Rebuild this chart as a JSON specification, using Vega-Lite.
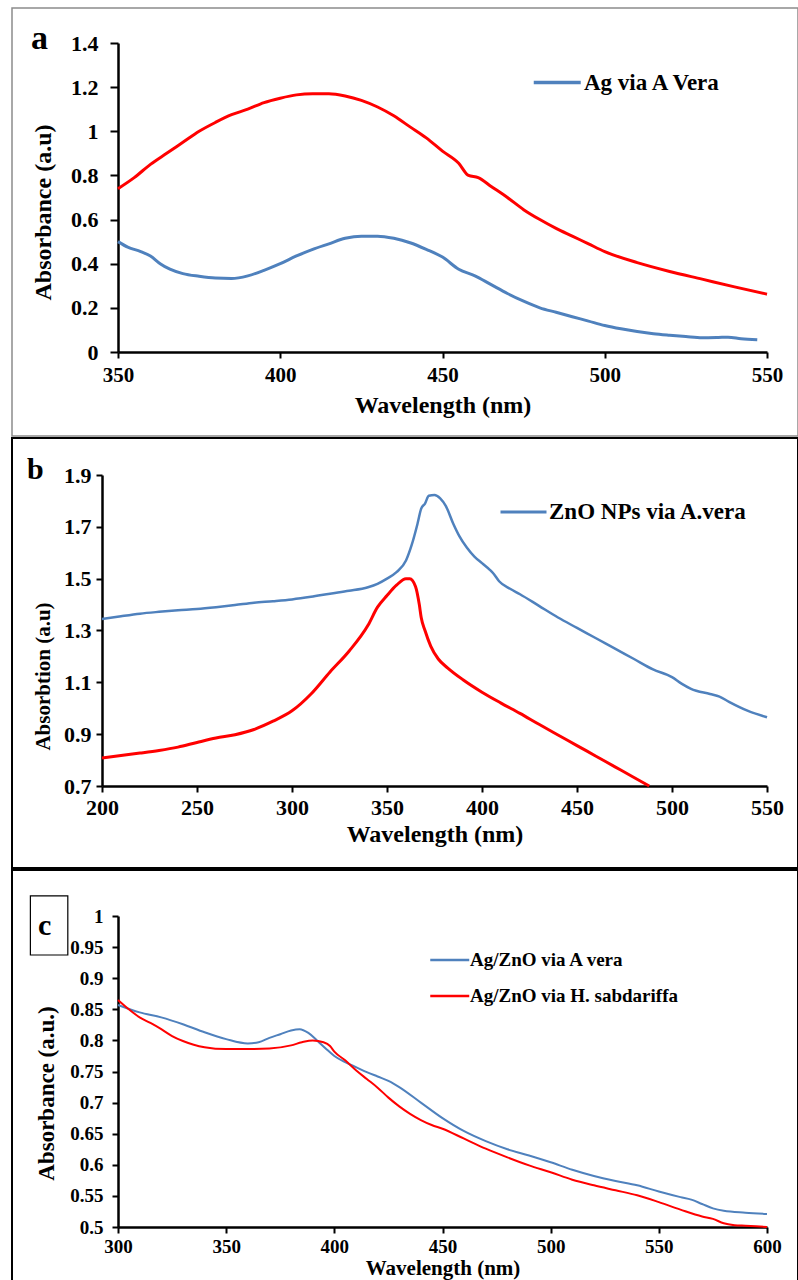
{
  "$schema": "https://vega.github.io/schema/vega-lite/v6.json",
  "background": "white",
  "padding": {"left": 11, "top": 7, "right": 0, "bottom": 0},
  "spacing": 0,
  "config": {
    "font": "Liberation Serif",
    "view": {"stroke": null},
    "axis": {
      "labelFont": "Liberation Serif", "labelFontWeight": "bold", "labelColor": "#000",
      "titleFont": "Liberation Serif", "titleFontWeight": "bold", "titleColor": "#000",
      "domainColor": "#000", "domainWidth": 2.5, "tickColor": "#000", "tickWidth": 2,
      "grid": false, "labelFlush": false, "labelOverlap": false, "format": "~f"
    },
    "legend": {
      "labelFont": "Liberation Serif", "labelFontWeight": "bold", "labelColor": "#000",
      "padding": 0, "title": null, "labelLimit": 0
    },
    "title": {"font": "Liberation Serif", "fontWeight": "bold", "color": "#000", "anchor": "start", "frame": "group", "baseline": "alphabetic"}
  },
  "resolve": {"scale": {"color": "independent"}, "legend": {"color": "independent"}},
  "vconcat": [
    {
      "width": 786, "height": 428,
      "view": {"stroke": "#8c8c8c", "strokeWidth": 1.5},
      "title": {"text": "a", "fontSize": 34, "offset": -48, "dx": 19},
      "data": {"values": [
        {"s": "Ag via A Vera", "wl": 350, "ab": 0.50}, {"s": "Ag via A Vera", "wl": 353, "ab": 0.475}, {"s": "Ag via A Vera", "wl": 357, "ab": 0.455}, {"s": "Ag via A Vera", "wl": 360, "ab": 0.435}, {"s": "Ag via A Vera", "wl": 363, "ab": 0.40}, {"s": "Ag via A Vera", "wl": 366, "ab": 0.375}, {"s": "Ag via A Vera", "wl": 370, "ab": 0.355}, {"s": "Ag via A Vera", "wl": 375, "ab": 0.343}, {"s": "Ag via A Vera", "wl": 380, "ab": 0.335}, {"s": "Ag via A Vera", "wl": 385, "ab": 0.333}, {"s": "Ag via A Vera", "wl": 390, "ab": 0.345}, {"s": "Ag via A Vera", "wl": 395, "ab": 0.37}, {"s": "Ag via A Vera", "wl": 400, "ab": 0.40}, {"s": "Ag via A Vera", "wl": 405, "ab": 0.435}, {"s": "Ag via A Vera", "wl": 410, "ab": 0.465}, {"s": "Ag via A Vera", "wl": 415, "ab": 0.49}, {"s": "Ag via A Vera", "wl": 420, "ab": 0.515}, {"s": "Ag via A Vera", "wl": 425, "ab": 0.525}, {"s": "Ag via A Vera", "wl": 430, "ab": 0.525}, {"s": "Ag via A Vera", "wl": 435, "ab": 0.515}, {"s": "Ag via A Vera", "wl": 440, "ab": 0.495}, {"s": "Ag via A Vera", "wl": 445, "ab": 0.465}, {"s": "Ag via A Vera", "wl": 450, "ab": 0.43}, {"s": "Ag via A Vera", "wl": 455, "ab": 0.375}, {"s": "Ag via A Vera", "wl": 460, "ab": 0.345}, {"s": "Ag via A Vera", "wl": 465, "ab": 0.305}, {"s": "Ag via A Vera", "wl": 470, "ab": 0.265}, {"s": "Ag via A Vera", "wl": 475, "ab": 0.23}, {"s": "Ag via A Vera", "wl": 480, "ab": 0.20}, {"s": "Ag via A Vera", "wl": 485, "ab": 0.18}, {"s": "Ag via A Vera", "wl": 490, "ab": 0.16}, {"s": "Ag via A Vera", "wl": 495, "ab": 0.14}, {"s": "Ag via A Vera", "wl": 500, "ab": 0.12}, {"s": "Ag via A Vera", "wl": 505, "ab": 0.105}, {"s": "Ag via A Vera", "wl": 510, "ab": 0.093}, {"s": "Ag via A Vera", "wl": 515, "ab": 0.083}, {"s": "Ag via A Vera", "wl": 520, "ab": 0.076}, {"s": "Ag via A Vera", "wl": 525, "ab": 0.07}, {"s": "Ag via A Vera", "wl": 530, "ab": 0.065}, {"s": "Ag via A Vera", "wl": 535, "ab": 0.066}, {"s": "Ag via A Vera", "wl": 538, "ab": 0.067}, {"s": "Ag via A Vera", "wl": 542, "ab": 0.06}, {"s": "Ag via A Vera", "wl": 547, "ab": 0.055},
        {"s": "red curve", "wl": 350, "ab": 0.74}, {"s": "red curve", "wl": 355, "ab": 0.79}, {"s": "red curve", "wl": 360, "ab": 0.85}, {"s": "red curve", "wl": 365, "ab": 0.90}, {"s": "red curve", "wl": 370, "ab": 0.95}, {"s": "red curve", "wl": 375, "ab": 1.0}, {"s": "red curve", "wl": 380, "ab": 1.04}, {"s": "red curve", "wl": 385, "ab": 1.075}, {"s": "red curve", "wl": 390, "ab": 1.10}, {"s": "red curve", "wl": 395, "ab": 1.13}, {"s": "red curve", "wl": 400, "ab": 1.15}, {"s": "red curve", "wl": 405, "ab": 1.165}, {"s": "red curve", "wl": 410, "ab": 1.17}, {"s": "red curve", "wl": 415, "ab": 1.17}, {"s": "red curve", "wl": 420, "ab": 1.16}, {"s": "red curve", "wl": 425, "ab": 1.14}, {"s": "red curve", "wl": 430, "ab": 1.11}, {"s": "red curve", "wl": 435, "ab": 1.07}, {"s": "red curve", "wl": 440, "ab": 1.02}, {"s": "red curve", "wl": 445, "ab": 0.97}, {"s": "red curve", "wl": 450, "ab": 0.91}, {"s": "red curve", "wl": 455, "ab": 0.855}, {"s": "red curve", "wl": 458, "ab": 0.80}, {"s": "red curve", "wl": 461, "ab": 0.79}, {"s": "red curve", "wl": 465, "ab": 0.75}, {"s": "red curve", "wl": 470, "ab": 0.70}, {"s": "red curve", "wl": 475, "ab": 0.645}, {"s": "red curve", "wl": 480, "ab": 0.60}, {"s": "red curve", "wl": 485, "ab": 0.56}, {"s": "red curve", "wl": 490, "ab": 0.525}, {"s": "red curve", "wl": 495, "ab": 0.49}, {"s": "red curve", "wl": 500, "ab": 0.455}, {"s": "red curve", "wl": 510, "ab": 0.405}, {"s": "red curve", "wl": 520, "ab": 0.365}, {"s": "red curve", "wl": 530, "ab": 0.33}, {"s": "red curve", "wl": 540, "ab": 0.295}, {"s": "red curve", "wl": 550, "ab": 0.262}
      ]},
      "encoding": {
        "x": {"field": "wl", "type": "quantitative",
          "scale": {"domain": [350, 550], "range": [106, 755], "nice": false, "zero": false},
          "axis": {"values": [350, 400, 450, 500, 550], "offset": -84, "title": "Wavelength (nm)", "titleY": 53, "titleBaseline": "middle", "labelFontSize": 21, "titleFontSize": 24, "tickSize": 6, "labelPadding": 6}},
        "y": {"field": "ab", "type": "quantitative",
          "scale": {"domain": [0, 1.4], "range": [344, 35], "nice": false, "zero": false},
          "axis": {"values": [0, 0.2, 0.4, 0.6, 0.8, 1, 1.2, 1.4], "offset": -106, "title": "Absorbance (a.u)", "titleX": -75, "titleY": 204, "titleAngle": -90, "titleAlign": "center", "titleBaseline": "middle", "labelFontSize": 22, "titleFontSize": 24, "tickSize": 8, "labelPadding": 12}}
      },
      "layer": [
        {"transform": [{"filter": "datum.s === 'red curve'"}],
         "mark": {"type": "line", "color": "#FF0000", "strokeWidth": 3, "interpolate": "monotone"}},
        {"transform": [{"filter": "datum.s === 'Ag via A Vera'"}],
         "mark": {"type": "line", "strokeWidth": 3, "interpolate": "monotone"},
         "encoding": {"color": {"field": "s", "type": "nominal", "scale": {"domain": ["Ag via A Vera"], "range": ["#4F81BD"]},
           "legend": {"orient": "none", "legendX": 520, "legendY": 61, "symbolType": "M-1,0H3", "symbolSize": 552, "symbolStrokeWidth": 3.5, "labelOffset": 25, "labelFontSize": 23}}}}
      ]
    },
    {
      "width": 786, "height": 430,
      "view": {"stroke": "#000", "strokeWidth": 2},
      "title": {"text": "b", "fontSize": 30, "offset": -47, "dx": 15},
      "data": {"values": [
        {"s": "ZnO NPs via A.vera", "wl": 200, "ab": 1.344}, {"s": "ZnO NPs via A.vera", "wl": 210, "ab": 1.355}, {"s": "ZnO NPs via A.vera", "wl": 220, "ab": 1.365}, {"s": "ZnO NPs via A.vera", "wl": 230, "ab": 1.372}, {"s": "ZnO NPs via A.vera", "wl": 240, "ab": 1.378}, {"s": "ZnO NPs via A.vera", "wl": 250, "ab": 1.383}, {"s": "ZnO NPs via A.vera", "wl": 260, "ab": 1.39}, {"s": "ZnO NPs via A.vera", "wl": 270, "ab": 1.398}, {"s": "ZnO NPs via A.vera", "wl": 280, "ab": 1.407}, {"s": "ZnO NPs via A.vera", "wl": 290, "ab": 1.413}, {"s": "ZnO NPs via A.vera", "wl": 300, "ab": 1.42}, {"s": "ZnO NPs via A.vera", "wl": 310, "ab": 1.43}, {"s": "ZnO NPs via A.vera", "wl": 320, "ab": 1.442}, {"s": "ZnO NPs via A.vera", "wl": 330, "ab": 1.453}, {"s": "ZnO NPs via A.vera", "wl": 340, "ab": 1.467}, {"s": "ZnO NPs via A.vera", "wl": 345, "ab": 1.48}, {"s": "ZnO NPs via A.vera", "wl": 350, "ab": 1.50}, {"s": "ZnO NPs via A.vera", "wl": 355, "ab": 1.525}, {"s": "ZnO NPs via A.vera", "wl": 360, "ab": 1.57}, {"s": "ZnO NPs via A.vera", "wl": 363, "ab": 1.63}, {"s": "ZnO NPs via A.vera", "wl": 366, "ab": 1.71}, {"s": "ZnO NPs via A.vera", "wl": 368, "ab": 1.77}, {"s": "ZnO NPs via A.vera", "wl": 370, "ab": 1.79}, {"s": "ZnO NPs via A.vera", "wl": 372, "ab": 1.82}, {"s": "ZnO NPs via A.vera", "wl": 375, "ab": 1.823}, {"s": "ZnO NPs via A.vera", "wl": 378, "ab": 1.81}, {"s": "ZnO NPs via A.vera", "wl": 381, "ab": 1.78}, {"s": "ZnO NPs via A.vera", "wl": 385, "ab": 1.71}, {"s": "ZnO NPs via A.vera", "wl": 388, "ab": 1.665}, {"s": "ZnO NPs via A.vera", "wl": 392, "ab": 1.62}, {"s": "ZnO NPs via A.vera", "wl": 396, "ab": 1.585}, {"s": "ZnO NPs via A.vera", "wl": 400, "ab": 1.56}, {"s": "ZnO NPs via A.vera", "wl": 404, "ab": 1.535}, {"s": "ZnO NPs via A.vera", "wl": 406, "ab": 1.52}, {"s": "ZnO NPs via A.vera", "wl": 409, "ab": 1.49}, {"s": "ZnO NPs via A.vera", "wl": 415, "ab": 1.46}, {"s": "ZnO NPs via A.vera", "wl": 420, "ab": 1.44}, {"s": "ZnO NPs via A.vera", "wl": 430, "ab": 1.395}, {"s": "ZnO NPs via A.vera", "wl": 440, "ab": 1.35}, {"s": "ZnO NPs via A.vera", "wl": 450, "ab": 1.31}, {"s": "ZnO NPs via A.vera", "wl": 460, "ab": 1.27}, {"s": "ZnO NPs via A.vera", "wl": 470, "ab": 1.23}, {"s": "ZnO NPs via A.vera", "wl": 480, "ab": 1.19}, {"s": "ZnO NPs via A.vera", "wl": 490, "ab": 1.15}, {"s": "ZnO NPs via A.vera", "wl": 500, "ab": 1.12}, {"s": "ZnO NPs via A.vera", "wl": 505, "ab": 1.095}, {"s": "ZnO NPs via A.vera", "wl": 510, "ab": 1.075}, {"s": "ZnO NPs via A.vera", "wl": 520, "ab": 1.055}, {"s": "ZnO NPs via A.vera", "wl": 525, "ab": 1.045}, {"s": "ZnO NPs via A.vera", "wl": 530, "ab": 1.025}, {"s": "ZnO NPs via A.vera", "wl": 540, "ab": 0.99}, {"s": "ZnO NPs via A.vera", "wl": 550, "ab": 0.965},
        {"s": "red curve", "wl": 200, "ab": 0.808}, {"s": "red curve", "wl": 210, "ab": 0.818}, {"s": "red curve", "wl": 220, "ab": 0.827}, {"s": "red curve", "wl": 230, "ab": 0.837}, {"s": "red curve", "wl": 240, "ab": 0.85}, {"s": "red curve", "wl": 250, "ab": 0.868}, {"s": "red curve", "wl": 260, "ab": 0.885}, {"s": "red curve", "wl": 270, "ab": 0.898}, {"s": "red curve", "wl": 280, "ab": 0.918}, {"s": "red curve", "wl": 290, "ab": 0.95}, {"s": "red curve", "wl": 300, "ab": 0.99}, {"s": "red curve", "wl": 310, "ab": 1.055}, {"s": "red curve", "wl": 320, "ab": 1.14}, {"s": "red curve", "wl": 330, "ab": 1.22}, {"s": "red curve", "wl": 340, "ab": 1.32}, {"s": "red curve", "wl": 345, "ab": 1.39}, {"s": "red curve", "wl": 350, "ab": 1.435}, {"s": "red curve", "wl": 355, "ab": 1.475}, {"s": "red curve", "wl": 360, "ab": 1.50}, {"s": "red curve", "wl": 362, "ab": 1.50}, {"s": "red curve", "wl": 365, "ab": 1.47}, {"s": "red curve", "wl": 367, "ab": 1.40}, {"s": "red curve", "wl": 368, "ab": 1.35}, {"s": "red curve", "wl": 370, "ab": 1.30}, {"s": "red curve", "wl": 373, "ab": 1.24}, {"s": "red curve", "wl": 377, "ab": 1.19}, {"s": "red curve", "wl": 382, "ab": 1.155}, {"s": "red curve", "wl": 390, "ab": 1.11}, {"s": "red curve", "wl": 400, "ab": 1.062}, {"s": "red curve", "wl": 410, "ab": 1.02}, {"s": "red curve", "wl": 420, "ab": 0.98}, {"s": "red curve", "wl": 430, "ab": 0.938}, {"s": "red curve", "wl": 440, "ab": 0.897}, {"s": "red curve", "wl": 450, "ab": 0.856}, {"s": "red curve", "wl": 460, "ab": 0.815}, {"s": "red curve", "wl": 470, "ab": 0.774}, {"s": "red curve", "wl": 480, "ab": 0.733}, {"s": "red curve", "wl": 488, "ab": 0.70}
      ]},
      "encoding": {
        "x": {"field": "wl", "type": "quantitative",
          "scale": {"domain": [200, 550], "range": [90, 755], "nice": false, "zero": false},
          "axis": {"values": [200, 250, 300, 350, 400, 450, 500, 550], "offset": -82, "title": "Wavelength (nm)", "titleY": 48, "titleBaseline": "middle", "labelFontSize": 22, "titleFontSize": 24, "tickSize": 6, "labelPadding": 5}},
        "y": {"field": "ab", "type": "quantitative",
          "scale": {"domain": [0.7, 1.9], "range": [348, 37], "nice": false, "zero": false},
          "axis": {"values": [0.7, 0.9, 1.1, 1.3, 1.5, 1.7, 1.9], "offset": -90, "title": "Absorbtion (a.u)", "titleX": -59, "titleY": 238, "titleAngle": -90, "titleAlign": "center", "titleBaseline": "middle", "labelFontSize": 22, "titleFontSize": 21, "tickSize": 6, "labelPadding": 5}}
      },
      "layer": [
        {"transform": [{"filter": "datum.s === 'red curve'"}],
         "mark": {"type": "line", "color": "#FF0000", "strokeWidth": 3, "interpolate": "monotone"}},
        {"transform": [{"filter": "datum.s === 'ZnO NPs via A.vera'"}],
         "mark": {"type": "line", "strokeWidth": 2.5, "interpolate": "monotone"},
         "encoding": {"color": {"field": "s", "type": "nominal", "scale": {"domain": ["ZnO NPs via A.vera"], "range": ["#4F81BD"]},
           "legend": {"orient": "none", "legendX": 487, "legendY": 61, "symbolType": "M-1,0H3", "symbolSize": 529, "symbolStrokeWidth": 3, "labelOffset": 24, "labelFontSize": 23}}}}
      ]
    },
    {
      "width": 786, "height": 420,
      "view": {"stroke": "#000", "strokeWidth": 2},
      "title": {"text": "c", "fontSize": 30, "offset": -71, "dx": 26},
      "data": {"values": [
        {"s": "Ag/ZnO via A vera", "wl": 300, "ab": 0.857}, {"s": "Ag/ZnO via A vera", "wl": 310, "ab": 0.845}, {"s": "Ag/ZnO via A vera", "wl": 320, "ab": 0.837}, {"s": "Ag/ZnO via A vera", "wl": 330, "ab": 0.826}, {"s": "Ag/ZnO via A vera", "wl": 340, "ab": 0.813}, {"s": "Ag/ZnO via A vera", "wl": 350, "ab": 0.802}, {"s": "Ag/ZnO via A vera", "wl": 360, "ab": 0.795}, {"s": "Ag/ZnO via A vera", "wl": 365, "ab": 0.797}, {"s": "Ag/ZnO via A vera", "wl": 370, "ab": 0.804}, {"s": "Ag/ZnO via A vera", "wl": 375, "ab": 0.81}, {"s": "Ag/ZnO via A vera", "wl": 380, "ab": 0.816}, {"s": "Ag/ZnO via A vera", "wl": 384, "ab": 0.818}, {"s": "Ag/ZnO via A vera", "wl": 388, "ab": 0.812}, {"s": "Ag/ZnO via A vera", "wl": 392, "ab": 0.80}, {"s": "Ag/ZnO via A vera", "wl": 396, "ab": 0.787}, {"s": "Ag/ZnO via A vera", "wl": 400, "ab": 0.775}, {"s": "Ag/ZnO via A vera", "wl": 405, "ab": 0.765}, {"s": "Ag/ZnO via A vera", "wl": 410, "ab": 0.757}, {"s": "Ag/ZnO via A vera", "wl": 415, "ab": 0.749}, {"s": "Ag/ZnO via A vera", "wl": 420, "ab": 0.742}, {"s": "Ag/ZnO via A vera", "wl": 425, "ab": 0.735}, {"s": "Ag/ZnO via A vera", "wl": 430, "ab": 0.725}, {"s": "Ag/ZnO via A vera", "wl": 440, "ab": 0.70}, {"s": "Ag/ZnO via A vera", "wl": 450, "ab": 0.675}, {"s": "Ag/ZnO via A vera", "wl": 460, "ab": 0.654}, {"s": "Ag/ZnO via A vera", "wl": 470, "ab": 0.638}, {"s": "Ag/ZnO via A vera", "wl": 480, "ab": 0.625}, {"s": "Ag/ZnO via A vera", "wl": 490, "ab": 0.615}, {"s": "Ag/ZnO via A vera", "wl": 500, "ab": 0.604}, {"s": "Ag/ZnO via A vera", "wl": 510, "ab": 0.592}, {"s": "Ag/ZnO via A vera", "wl": 520, "ab": 0.582}, {"s": "Ag/ZnO via A vera", "wl": 530, "ab": 0.574}, {"s": "Ag/ZnO via A vera", "wl": 540, "ab": 0.567}, {"s": "Ag/ZnO via A vera", "wl": 550, "ab": 0.557}, {"s": "Ag/ZnO via A vera", "wl": 560, "ab": 0.548}, {"s": "Ag/ZnO via A vera", "wl": 565, "ab": 0.544}, {"s": "Ag/ZnO via A vera", "wl": 570, "ab": 0.537}, {"s": "Ag/ZnO via A vera", "wl": 575, "ab": 0.53}, {"s": "Ag/ZnO via A vera", "wl": 580, "ab": 0.526}, {"s": "Ag/ZnO via A vera", "wl": 590, "ab": 0.523}, {"s": "Ag/ZnO via A vera", "wl": 600, "ab": 0.521},
        {"s": "Ag/ZnO via H. sabdariffa", "wl": 300, "ab": 0.865}, {"s": "Ag/ZnO via H. sabdariffa", "wl": 305, "ab": 0.85}, {"s": "Ag/ZnO via H. sabdariffa", "wl": 310, "ab": 0.837}, {"s": "Ag/ZnO via H. sabdariffa", "wl": 315, "ab": 0.828}, {"s": "Ag/ZnO via H. sabdariffa", "wl": 320, "ab": 0.818}, {"s": "Ag/ZnO via H. sabdariffa", "wl": 325, "ab": 0.807}, {"s": "Ag/ZnO via H. sabdariffa", "wl": 330, "ab": 0.799}, {"s": "Ag/ZnO via H. sabdariffa", "wl": 335, "ab": 0.793}, {"s": "Ag/ZnO via H. sabdariffa", "wl": 340, "ab": 0.789}, {"s": "Ag/ZnO via H. sabdariffa", "wl": 350, "ab": 0.786}, {"s": "Ag/ZnO via H. sabdariffa", "wl": 360, "ab": 0.786}, {"s": "Ag/ZnO via H. sabdariffa", "wl": 370, "ab": 0.787}, {"s": "Ag/ZnO via H. sabdariffa", "wl": 380, "ab": 0.792}, {"s": "Ag/ZnO via H. sabdariffa", "wl": 385, "ab": 0.797}, {"s": "Ag/ZnO via H. sabdariffa", "wl": 390, "ab": 0.80}, {"s": "Ag/ZnO via H. sabdariffa", "wl": 395, "ab": 0.797}, {"s": "Ag/ZnO via H. sabdariffa", "wl": 398, "ab": 0.791}, {"s": "Ag/ZnO via H. sabdariffa", "wl": 400, "ab": 0.782}, {"s": "Ag/ZnO via H. sabdariffa", "wl": 405, "ab": 0.768}, {"s": "Ag/ZnO via H. sabdariffa", "wl": 410, "ab": 0.752}, {"s": "Ag/ZnO via H. sabdariffa", "wl": 415, "ab": 0.738}, {"s": "Ag/ZnO via H. sabdariffa", "wl": 420, "ab": 0.724}, {"s": "Ag/ZnO via H. sabdariffa", "wl": 425, "ab": 0.708}, {"s": "Ag/ZnO via H. sabdariffa", "wl": 430, "ab": 0.694}, {"s": "Ag/ZnO via H. sabdariffa", "wl": 435, "ab": 0.682}, {"s": "Ag/ZnO via H. sabdariffa", "wl": 440, "ab": 0.672}, {"s": "Ag/ZnO via H. sabdariffa", "wl": 445, "ab": 0.664}, {"s": "Ag/ZnO via H. sabdariffa", "wl": 450, "ab": 0.658}, {"s": "Ag/ZnO via H. sabdariffa", "wl": 460, "ab": 0.642}, {"s": "Ag/ZnO via H. sabdariffa", "wl": 470, "ab": 0.626}, {"s": "Ag/ZnO via H. sabdariffa", "wl": 480, "ab": 0.612}, {"s": "Ag/ZnO via H. sabdariffa", "wl": 490, "ab": 0.599}, {"s": "Ag/ZnO via H. sabdariffa", "wl": 500, "ab": 0.588}, {"s": "Ag/ZnO via H. sabdariffa", "wl": 510, "ab": 0.576}, {"s": "Ag/ZnO via H. sabdariffa", "wl": 520, "ab": 0.567}, {"s": "Ag/ZnO via H. sabdariffa", "wl": 530, "ab": 0.559}, {"s": "Ag/ZnO via H. sabdariffa", "wl": 540, "ab": 0.551}, {"s": "Ag/ZnO via H. sabdariffa", "wl": 550, "ab": 0.54}, {"s": "Ag/ZnO via H. sabdariffa", "wl": 560, "ab": 0.528}, {"s": "Ag/ZnO via H. sabdariffa", "wl": 570, "ab": 0.517}, {"s": "Ag/ZnO via H. sabdariffa", "wl": 575, "ab": 0.513}, {"s": "Ag/ZnO via H. sabdariffa", "wl": 580, "ab": 0.506}, {"s": "Ag/ZnO via H. sabdariffa", "wl": 585, "ab": 0.503}, {"s": "Ag/ZnO via H. sabdariffa", "wl": 590, "ab": 0.502}, {"s": "Ag/ZnO via H. sabdariffa", "wl": 600, "ab": 0.50}
      ]},
      "encoding": {
        "x": {"field": "wl", "type": "quantitative",
          "scale": {"domain": [300, 600], "range": [106, 755], "nice": false, "zero": false},
          "axis": {"values": [300, 350, 400, 450, 500, 550, 600], "offset": -63, "title": "Wavelength (nm)", "titleY": 41, "titleBaseline": "middle", "labelFontSize": 19, "titleFontSize": 21, "tickSize": 6, "labelPadding": 4}},
        "y": {"field": "ab", "type": "quantitative",
          "scale": {"domain": [0.5, 1], "range": [357, 46], "nice": false, "zero": false},
          "axis": {"values": [0.5, 0.55, 0.6, 0.65, 0.7, 0.75, 0.8, 0.85, 0.9, 0.95, 1], "offset": -106, "title": "Absorbance (a.u.)", "titleX": -72, "titleY": 223, "titleAngle": -90, "titleAlign": "center", "titleBaseline": "middle", "labelFontSize": 19, "titleFontSize": 23, "tickSize": 6, "labelPadding": 9}}
      },
      "layer": [
        {"mark": {"type": "line", "strokeWidth": 2, "interpolate": "monotone"},
         "encoding": {"color": {"field": "s", "type": "nominal", "scale": {"domain": ["Ag/ZnO via A vera", "Ag/ZnO via H. sabdariffa"], "range": ["#4F81BD", "#FF0000"]},
           "legend": {"orient": "none", "legendX": 417, "legendY": 79, "symbolType": "M-1,0H3", "symbolSize": 380, "symbolStrokeWidth": 2.5, "labelOffset": 19, "labelFontSize": 19, "rowPadding": 15}}}},
        {"transform": [{"filter": "datum.s === 'Ag/ZnO via A vera' && datum.wl === 300"}],
         "mark": {"type": "rect", "fill": "transparent", "stroke": "#000", "strokeWidth": 1.2, "clip": false},
         "encoding": {"x": {"datum": 259.5}, "x2": {"datum": 276.8}, "y": {"datum": 1.0322}, "y2": {"datum": 0.9373}}}
      ]
    }
  ]
}
